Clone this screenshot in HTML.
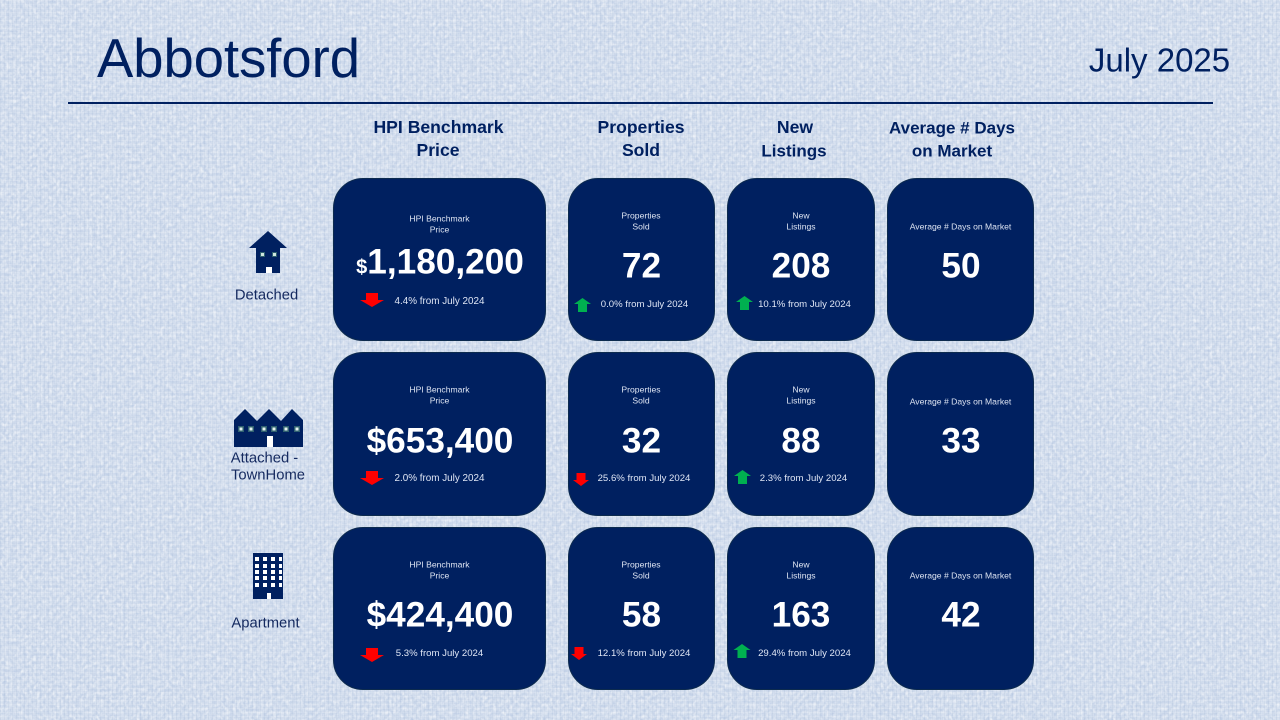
<!DOCTYPE html>
<html lang="en">
<head>
<meta charset="utf-8">
<title>Abbotsford July 2025</title>
<style>
html,body{margin:0;padding:0;width:1280px;height:720px;overflow:hidden}
body{position:relative;background:#cdd9eb;font-family:"Liberation Sans",sans-serif;color:#002060}
#tex{position:absolute;left:0;top:0;width:1280px;height:720px}
.card{position:absolute;background:#002060;border:1px solid #0d2b4e;border-radius:30px;box-sizing:border-box}
.t{position:absolute;white-space:nowrap;transform:translate(-50%,-50%);line-height:1}
.h{font-weight:bold;font-size:17.6px;color:#002060}
.s{font-size:8.6px;color:#dde4f2;margin-top:1px}
.v{font-weight:bold;font-size:35.2px;color:#fff}
.f{font-size:9.6px;color:#dfe6f5;margin-top:1px}
.l{font-size:14.8px;color:#14295f;margin-top:1px}
.a{position:absolute}
</style>
</head>
<body>
<svg id="tex" xmlns="http://www.w3.org/2000/svg">
<defs>
<filter id="n" x="0" y="0" width="100%" height="100%"><feTurbulence type="fractalNoise" baseFrequency="0.28 0.34" numOctaves="2" seed="4"/><feColorMatrix values="0 0 0 0 0.50  0 0 0 0 0.60  0 0 0 0 0.78  1.3 1.3 0 0 -1.0"/></filter>
<filter id="m" x="0" y="0" width="100%" height="100%"><feTurbulence type="fractalNoise" baseFrequency="0.3 0.26" numOctaves="2" seed="11"/><feColorMatrix values="0 0 0 0 1  0 0 0 0 1  0 0 0 0 1  1.3 1.3 0 0 -1.0"/></filter>
<pattern id="w" width="4" height="4" patternUnits="userSpaceOnUse"><rect width="4" height="1" fill="#ffffff" opacity=".14"/><rect width="1" height="4" fill="#8fa6cc" opacity=".12"/></pattern>
</defs>
<rect width="1280" height="720" filter="url(#n)" opacity=".75"/>
<rect width="1280" height="720" filter="url(#m)" opacity=".6"/>
<rect width="1280" height="720" fill="url(#w)"/>
</svg>

<div class="t" style="left:228.5px;top:59px;font-size:54.4px">Abbotsford</div>
<div class="t" style="left:1159.5px;top:60px;font-size:33px">July 2025</div>
<div class="a" style="left:68px;top:102px;width:1145px;height:2px;background:#002060"></div>

<div class="t h" style="left:438.5px;top:128px">HPI Benchmark</div>
<div class="t h" style="left:438px;top:151px">Price</div>
<div class="t h" style="left:641px;top:128px">Properties</div>
<div class="t h" style="left:641px;top:151px">Sold</div>
<div class="t h" style="left:795px;top:128px">New</div>
<div class="t h" style="left:794px;top:151px;font-size:17px">Listings</div>
<div class="t h" style="left:952px;top:128px;font-size:17px">Average # Days</div>
<div class="t h" style="left:952px;top:151px;font-size:17px">on Market</div>

<!-- Row labels and icons -->
<svg class="a" style="left:0;top:0" width="1280" height="720" xmlns="http://www.w3.org/2000/svg">
<polygon points="268,231 287,248 280,248 280,273 256,273 256,248 249,248" fill="#002060"/>
<rect x="260" y="252" width="5" height="5" fill="#2f6070"/><rect x="272" y="252" width="5" height="5" fill="#2f6070"/>
<rect x="261" y="253" width="3" height="3" fill="#cfe6de"/><rect x="273" y="253" width="3" height="3" fill="#cfe6de"/>
<rect x="266" y="267" width="6" height="6" fill="#fff"/>
</svg>
<svg class="a" style="left:0;top:0" width="1280" height="720" xmlns="http://www.w3.org/2000/svg">
<polygon points="234,420 245,409 257,421 269,409 281,421 292,409 303,420 303,447 234,447" fill="#002060"/>
<g fill="#2f6070">
<rect x="238" y="426" width="6" height="6"/><rect x="248" y="426" width="6" height="6"/><rect x="261" y="426" width="6" height="6"/><rect x="271" y="426" width="6" height="6"/><rect x="283" y="426" width="6" height="6"/><rect x="294" y="426" width="6" height="6"/>
</g>
<g fill="#e6f3ee">
<rect x="239.5" y="427.5" width="3" height="3"/><rect x="249.5" y="427.5" width="3" height="3"/><rect x="262.5" y="427.5" width="3" height="3"/><rect x="272.5" y="427.5" width="3" height="3"/><rect x="284.5" y="427.5" width="3" height="3"/><rect x="295.5" y="427.5" width="3" height="3"/>
</g>
<rect x="267" y="436" width="6" height="11" fill="#fff"/>
</svg>
<svg class="a" style="left:0;top:0" width="1280" height="720" xmlns="http://www.w3.org/2000/svg">
<rect x="253" y="553" width="30" height="46" fill="#002060"/>
<g fill="#fff">
<rect x="255" y="557" width="4" height="4"/><rect x="263" y="557" width="4" height="4"/><rect x="271" y="557" width="4" height="4"/><rect x="279" y="557" width="3" height="4"/>
<rect x="255" y="564" width="4" height="4"/><rect x="263" y="564" width="4" height="4"/><rect x="271" y="564" width="4" height="4"/><rect x="279" y="564" width="3" height="4"/>
<rect x="255" y="570" width="4" height="4"/><rect x="263" y="570" width="4" height="4"/><rect x="271" y="570" width="4" height="4"/><rect x="279" y="570" width="3" height="4"/>
<rect x="255" y="576" width="4" height="4"/><rect x="263" y="576" width="4" height="4"/><rect x="271" y="576" width="4" height="4"/><rect x="279" y="576" width="3" height="4"/>
<rect x="255" y="583" width="4" height="4"/><rect x="263" y="583" width="4" height="4"/><rect x="271" y="583" width="4" height="4"/><rect x="279" y="583" width="3" height="4"/>
<rect x="267" y="593" width="4" height="6"/>
</g>
</svg>
<div class="t l" style="left:266.5px;top:295px">Detached</div>
<div class="t l" style="left:264.5px;top:458px">Attached -</div>
<div class="t l" style="left:268px;top:475px">TownHome</div>
<div class="t l" style="left:265.5px;top:623px">Apartment</div>

<!-- Cards -->
<div class="card" style="left:333px;top:178px;width:213px;height:163px"></div>
<div class="card" style="left:568px;top:178px;width:147px;height:163px"></div>
<div class="card" style="left:727px;top:178px;width:148px;height:163px"></div>
<div class="card" style="left:887px;top:178px;width:147px;height:163px"></div>
<div class="card" style="left:333px;top:352px;width:213px;height:164px"></div>
<div class="card" style="left:568px;top:352px;width:147px;height:164px"></div>
<div class="card" style="left:727px;top:352px;width:148px;height:164px"></div>
<div class="card" style="left:887px;top:352px;width:147px;height:164px"></div>
<div class="card" style="left:333px;top:527px;width:213px;height:163px"></div>
<div class="card" style="left:568px;top:527px;width:147px;height:163px"></div>
<div class="card" style="left:727px;top:527px;width:148px;height:163px"></div>
<div class="card" style="left:887px;top:527px;width:147px;height:163px"></div>

<!-- Row 1 -->
<div class="t s" style="left:439.5px;top:218px">HPI Benchmark</div>
<div class="t s" style="left:439.5px;top:229px">Price</div>
<div class="t v" style="left:440px;top:262px"><span style="font-size:20px">$</span>1,180,200</div>
<div class="t f" style="left:439.5px;top:300.5px;font-size:9.9px">4.4% from July 2024</div>
<div class="t s" style="left:641px;top:215px">Properties</div>
<div class="t s" style="left:641px;top:226px">Sold</div>
<div class="t v" style="left:641.5px;top:266px">72</div>
<div class="t f" style="left:644.5px;top:304px">0.0% from July 2024</div>
<div class="t s" style="left:801px;top:215px">New</div>
<div class="t s" style="left:801px;top:226px">Listings</div>
<div class="t v" style="left:801px;top:266px">208</div>
<div class="t f" style="left:804.5px;top:304px">10.1% from July 2024</div>
<div class="t s" style="left:960.5px;top:226px">Average # Days on Market</div>
<div class="t v" style="left:961px;top:266px">50</div>

<!-- Row 2 -->
<div class="t s" style="left:439.5px;top:389px">HPI Benchmark</div>
<div class="t s" style="left:439.5px;top:400px">Price</div>
<div class="t v" style="left:440px;top:441px">$653,400</div>
<div class="t f" style="left:439.5px;top:478px;font-size:9.9px">2.0% from July 2024</div>
<div class="t s" style="left:641px;top:389px">Properties</div>
<div class="t s" style="left:641px;top:400px">Sold</div>
<div class="t v" style="left:641.5px;top:441px">32</div>
<div class="t f" style="left:644px;top:478px">25.6% from July 2024</div>
<div class="t s" style="left:801px;top:389px">New</div>
<div class="t s" style="left:801px;top:400px">Listings</div>
<div class="t v" style="left:801px;top:441px">88</div>
<div class="t f" style="left:803.5px;top:478px">2.3% from July 2024</div>
<div class="t s" style="left:960.5px;top:401px">Average # Days on Market</div>
<div class="t v" style="left:961px;top:441px">33</div>

<!-- Row 3 -->
<div class="t s" style="left:439.5px;top:564px">HPI Benchmark</div>
<div class="t s" style="left:439.5px;top:575px">Price</div>
<div class="t v" style="left:440px;top:615px">$424,400</div>
<div class="t f" style="left:439.5px;top:653px">5.3% from July 2024</div>
<div class="t s" style="left:641px;top:564px">Properties</div>
<div class="t s" style="left:641px;top:575px">Sold</div>
<div class="t v" style="left:641.5px;top:615px">58</div>
<div class="t f" style="left:644px;top:653px">12.1% from July 2024</div>
<div class="t s" style="left:801px;top:564px">New</div>
<div class="t s" style="left:801px;top:575px">Listings</div>
<div class="t v" style="left:801px;top:615px">163</div>
<div class="t f" style="left:804.5px;top:653px">29.4% from July 2024</div>
<div class="t s" style="left:960.5px;top:575px">Average # Days on Market</div>
<div class="t v" style="left:961px;top:615px">42</div>

<!-- Arrows -->
<svg class="a" style="left:360px;top:293px" width="24" height="14" viewBox="0 0 24 14"><polygon points="6,0 18,0 18,7 24,7 12,14 0,7 6,7" fill="#ff0000"/></svg>
<svg class="a" style="left:360px;top:471px" width="24" height="14" viewBox="0 0 24 14"><polygon points="6,0 18,0 18,7 24,7 12,14 0,7 6,7" fill="#ff0000"/></svg>
<svg class="a" style="left:360px;top:648px" width="24" height="14" viewBox="0 0 24 14"><polygon points="6,0 18,0 18,7 24,7 12,14 0,7 6,7" fill="#ff0000"/></svg>
<svg class="a" style="left:573px;top:473px" width="16" height="13" viewBox="0 0 16 13"><polygon points="3.5,0 12.5,0 12.5,7 16,7 8,13 0,7 3.5,7" fill="#ff0000"/></svg>
<svg class="a" style="left:571px;top:647px" width="16" height="13" viewBox="0 0 16 13"><polygon points="3.5,0 12.5,0 12.5,7 16,7 8,13 0,7 3.5,7" fill="#ff0000"/></svg>
<svg class="a" style="left:574px;top:298px" width="17" height="14" viewBox="0 0 17 14"><polygon points="8.5,0 17,6 13,6 13,14 4,14 4,6 0,6" fill="#00b050"/></svg>
<svg class="a" style="left:736px;top:296px" width="17" height="14" viewBox="0 0 17 14"><polygon points="8.5,0 17,6 13,6 13,14 4,14 4,6 0,6" fill="#00b050"/></svg>
<svg class="a" style="left:734px;top:470px" width="17" height="14" viewBox="0 0 17 14"><polygon points="8.5,0 17,6 13,6 13,14 4,14 4,6 0,6" fill="#00b050"/></svg>
<svg class="a" style="left:733px;top:644px" width="18" height="14" viewBox="0 0 17 14"><polygon points="8.5,0 17,6 13,6 13,14 4,14 4,6 0,6" fill="#00b050"/></svg>
</body>
</html>
